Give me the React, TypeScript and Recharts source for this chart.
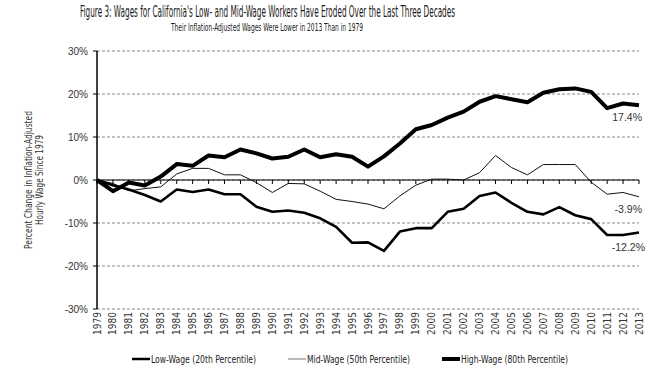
import React from "react";
import { LineChart, Line, XAxis, YAxis, CartesianGrid, ReferenceLine } from "recharts";

const years = [
  1979, 1980, 1981, 1982, 1983, 1984, 1985, 1986, 1987, 1988, 1989, 1990, 1991, 1992, 1993, 1994, 1995,
  1996, 1997, 1998, 1999, 2000, 2001, 2002, 2003, 2004, 2005, 2006, 2007, 2008, 2009, 2010, 2011, 2012, 2013,
];

const lowWage = [
  0, -1.2, -2.2, -3.5, -5.0, -2.2, -2.8, -2.2, -3.3, -3.3, -6.2, -7.4, -7.1, -7.6, -8.9, -10.9, -14.6,
  -14.5, -16.5, -12.0, -11.2, -11.2, -7.4, -6.7, -3.7, -2.9, -5.3, -7.4, -8.0, -6.3, -8.2, -9.1, -12.8, -12.8, -12.2,
];

const midWage = [
  0, -0.8, -2.5, -2.0, -1.6, 1.4, 2.7, 2.7, 1.2, 1.2, -0.6, -2.9, -0.8, -0.9, -2.6, -4.5, -5.0,
  -5.6, -6.7, -3.7, -1.2, 0.2, 0.2, 0, 1.7, 5.7, 2.9, 1.2, 3.6, 3.6, 3.6, -0.5, -3.3, -2.9, -3.9,
];

const highWage = [
  0, -2.6, -0.6, -1.3, 0.8, 3.7, 3.3, 5.7, 5.3, 7.1, 6.2, 5.0, 5.4, 7.1, 5.3, 6.0, 5.4,
  3.1, 5.5, 8.5, 11.8, 12.8, 14.5, 15.9, 18.2, 19.5, 18.8, 18.1, 20.3, 21.1, 21.3, 20.5, 16.7, 17.8, 17.4,
];

const yTicks = [-30, -20, -10, 0, 10, 20, 30];

const endLabels = ["-12.2%", "-3.9%", "17.4%"];

const data = years.map((year, i) => ({
  year,
  low: lowWage[i],
  mid: midWage[i],
  high: highWage[i],
}));

const NARROW = "'Liberation Sans Narrow', 'Arial Narrow', 'DejaVu Sans Condensed', Arial, sans-serif";
const ARIAL = "'Liberation Sans', Arial, sans-serif";

const PLOT_TOP = 51;
const PLOT_BOTTOM = 309;
const ZERO_Y = (PLOT_TOP + PLOT_BOTTOM) / 2;

const YearTick = (props: any) => {
  const { x, payload } = props;
  return (
    <g>
      <line x1={x} x2={x} y1={ZERO_Y} y2={ZERO_Y + 4} stroke="#000" strokeWidth={1} />
      <text
        x={x}
        y={PLOT_BOTTOM + 3}
        transform={`rotate(-90, ${x}, ${PLOT_BOTTOM + 3})`}
        textAnchor="end"
        dominantBaseline="central"
        fontSize={10}
        fontFamily={NARROW}
        fill="#333"
      >
        {payload.value}
      </text>
    </g>
  );
};

const endLabel = (text: string, dx: number, dy: number) => (props: any) => {
  const { x, y, index } = props;
  if (index !== years.length - 1) return <g key={`l-${index}`} />;
  return (
    <text key={`l-${index}`} x={x + dx} y={y + dy} textAnchor="end" dominantBaseline="central" fontSize={10.5} fontFamily={ARIAL} fill="#333">
      {text}
    </text>
  );
};

const legendItems = [
  { name: "Low-Wage (20th Percentile)", x: 132, width: 2.5, color: "#000", textLen: 105 },
  { name: "Mid-Wage (50th Percentile)", x: 288, width: 1, color: "#777", textLen: 103 },
  { name: "High-Wage (80th Percentile)", x: 442, width: 4, color: "#000", textLen: 107 },
];

export default function App() {
  return (
    <div style={{ position: "absolute", left: 0, top: 0, width: 667, height: 375, background: "#fff" }}>
      <svg width={667} height={375} style={{ position: "absolute", left: 0, top: 0, pointerEvents: "none" }}>
        <text x={80} y={17} fontSize={15.5} fontFamily={NARROW} textLength={375} lengthAdjust="spacingAndGlyphs" fill="#1a1a1a">
          Figure 3: Wages for California's Low- and Mid-Wage Workers Have Eroded Over the Last Three Decades
        </text>
        <text x={171} y={31} fontSize={11} fontFamily={NARROW} textLength={192} lengthAdjust="spacingAndGlyphs" fill="#1a1a1a">
          Their Inflation-Adjusted Wages Were Lower in 2013 Than in 1979
        </text>
        <g transform="rotate(-90, 36, 180)">
          <text x={36} y={176} textAnchor="middle" fontSize={10.5} fontFamily={NARROW} textLength={138} lengthAdjust="spacingAndGlyphs" fill="#333">
            Percent Change in Inflation-Adjusted
          </text>
          <text x={36} y={187} textAnchor="middle" fontSize={10.5} fontFamily={NARROW} textLength={90} lengthAdjust="spacingAndGlyphs" fill="#333">
            Hourly Wage Since 1979
          </text>
        </g>
        {legendItems.map((item) => (
          <g key={item.name}>
            <line x1={item.x} x2={item.x + 18} y1={359} y2={359} stroke={item.color} strokeWidth={item.width} />
            <text
              x={item.x + 19}
              y={359}
              dominantBaseline="central"
              fontSize={11}
              fontFamily={NARROW}
              textLength={item.textLen}
              lengthAdjust="spacingAndGlyphs"
              fill="#222"
            >
              {item.name}
            </text>
          </g>
        ))}
      </svg>
      <LineChart width={667} height={375} data={data} margin={{ top: PLOT_TOP, right: 28, bottom: 36, left: 47 }}>
        <CartesianGrid vertical={false} stroke="#888" strokeDasharray="3 2" />
        <XAxis
          dataKey="year"
          type="number"
          domain={[1979, 2013]}
          ticks={years}
          interval={0}
          axisLine={false}
          tickLine={false}
          height={30}
          tick={<YearTick />}
        />
        <YAxis
          domain={[-30, 30]}
          ticks={yTicks}
          interval={0}
          width={50}
          tickFormatter={(v: number) => `${v}%`}
          axisLine={{ stroke: "#000", strokeWidth: 1.5 }}
          tickLine={{ stroke: "#000" }}
          tickSize={4}
          tickMargin={5}
          tick={{ fontSize: 10, fontFamily: ARIAL, fill: "#333" }}
        />
        <ReferenceLine y={0} stroke="#000" strokeWidth={1.2} />
        <Line
          dataKey="mid"
          type="linear"
          stroke="#111"
          strokeWidth={1}
          dot={false}
          isAnimationActive={false}
          label={endLabel(endLabels[1], 3, 12)}
        />
        <Line
          dataKey="low"
          type="linear"
          stroke="#000"
          strokeWidth={2.6}
          strokeLinejoin="round"
          dot={false}
          isAnimationActive={false}
          label={endLabel(endLabels[0], 6, 15)}
        />
        <Line
          dataKey="high"
          type="linear"
          stroke="#000"
          strokeWidth={4}
          strokeLinejoin="round"
          dot={false}
          isAnimationActive={false}
          label={endLabel(endLabels[2], 3, 12)}
        />
      </LineChart>
    </div>
  );
}
